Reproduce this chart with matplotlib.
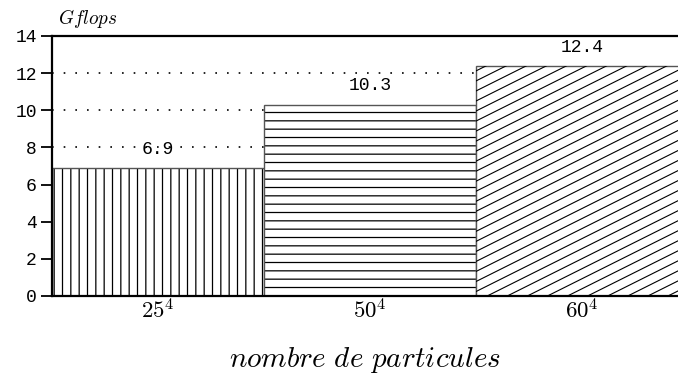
import matplotlib.pyplot as plt
import numpy as np

plt.rcParams['mathtext.fontset'] = 'cm'

# data
labels = ['$25^4$', '$50^4$', '$60^4$']
gflops = [6.9, 10.3, 12.4]
value_text = ['6.9', '10.3', '12.4']
hatches = ['||', '--', None]

fig = plt.figure(figsize=(6.78, 3.76), dpi=100)
ax = fig.add_axes([52 / 678, 1 - 296 / 376, 626 / 678, 260 / 376])

x = np.arange(len(gflops))
plt.rcParams['hatch.linewidth'] = 0.9
bars = ax.bar(x, gflops, width=1.0, color='white', edgecolor='#555555',
              linewidth=1.0, zorder=2)
for b, h in zip(bars, hatches):
    if h:
        b.set_hatch(h)
        b._hatch_color = (0, 0, 0, 1)

# shallow diagonal hatch on the last bar (lines clipped to the bar)
b = bars[2]
x0, x1 = b.get_x(), b.get_x() + b.get_width()
slope = 5.7          # data-y per data-x (~26 deg on screen)
step = 0.54
for c in np.arange(-slope * (x1 - x0), b.get_height() + step, step):
    ln, = ax.plot([x0, x1], [c, c + slope * (x1 - x0)], color='black',
                  lw=0.8, zorder=3)
    ln.set_clip_path(b)

for xi, v, t in zip(x, gflops, value_text):
    ax.text(xi, v + 0.55, t, ha='center', va='bottom', fontsize=13,
            family='Liberation Mono', zorder=4)

ax.set_xlim(-0.5, -0.5 + 626 / 212)
ax.set_ylim(0, 14)
ax.set_yticks(range(0, 15, 2))
ax.set_yticklabels([str(v) for v in range(0, 15, 2)], family='Liberation Mono',
                   fontsize=13)
ax.set_xticks(x)
ax.set_xticklabels(labels, fontsize=16.5)
ax.tick_params(axis='x', length=0, pad=2)
ax.tick_params(axis='y', direction='out', length=8, width=1.3, pad=3)

for yv in [8, 10, 12, 14]:
    ax.axhline(yv, color='black', linestyle=(0, (1, 6)), lw=1.2, zorder=1)

ax.spines['right'].set_visible(False)
for s in ['left', 'top', 'bottom']:
    ax.spines[s].set_linewidth(1.6)
    ax.spines[s].set_zorder(5)

fig.text(58 / 678, 1 - 19 / 376, '$Gflops$', fontsize=13.8, va='center')
ax.set_xlabel('$nombre\\ de\\ particules$', fontsize=21, labelpad=16)

fig.savefig('out.png', dpi=100)
